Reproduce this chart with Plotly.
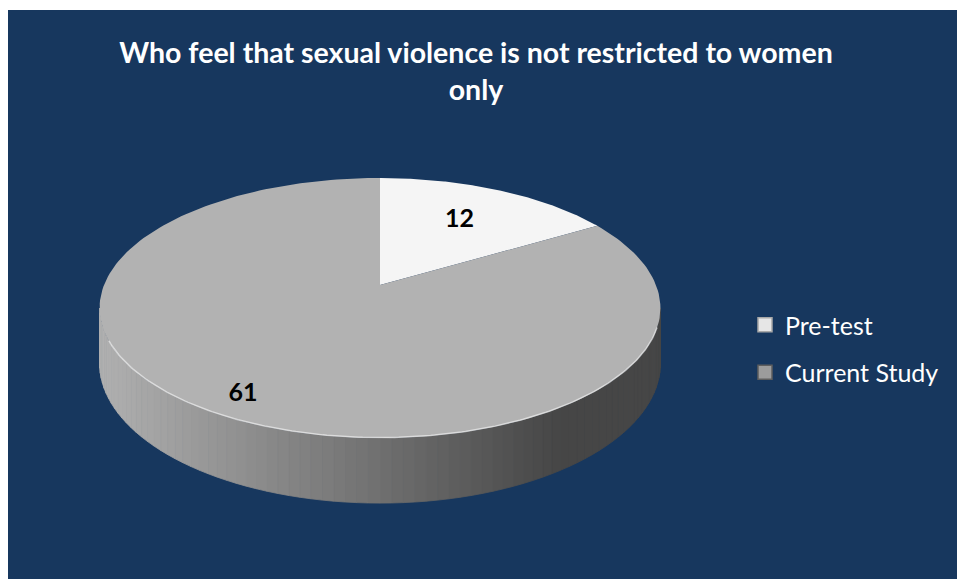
import numpy as np
import plotly.graph_objects as go

# ---- data ----
categories = ["Pre-test", "Current Study"]
values = [12, 61]
title_text = "Who feel that sexual violence is not restricted to women<br>only"

# ---- style ----
top_colors = ["#F5F5F5", "#B2B2B2"]
legend_colors = ["#E6E6E6", "#9C9C9C"]
legend_lines = ["#A8A8A8", "#5E5E5E"]
bg = "#17375E"
label_radius = [0.64, 0.87]

W, Hh = 957, 579

# pie geometry (page-pixel axis units)
CX, CY = 380.0, 285.0
R, RY = 276.0, 126.0
K = 0.177
H = 53.5


def proj(theta, f=1.0, drop=0.0):
    X = f * np.sin(theta)
    Z = f * np.cos(theta)
    d = 1 + K * Z
    return CX + R * X / d, CY - RY * Z / d + drop / d


fig = go.Figure()

total = float(sum(values))
bounds = np.concatenate([[0.0], np.cumsum(values) / total * 2 * np.pi])

# side (visible front part)
vis_a = np.arccos(-K)
vis_b = 2 * np.pi - vis_a
for i in range(len(values)):
    a = max(bounds[i], vis_a)
    b = min(bounds[i + 1], vis_b)
    if b <= a:
        continue
    n = 80
    edges = np.linspace(a, b, n + 1)
    for j in range(n):
        th = np.linspace(edges[j], edges[j + 1], 4)
        xt, yt = proj(th)
        xb, yb = proj(th[::-1], drop=H)
        xs = np.concatenate([xt, xb, xt[:1]])
        ys = np.concatenate([yt, yb, yt[:1]])
        xm = xt.mean()
        t = (xm - (CX - R)) / (2 * R)
        g = int(np.clip(176 - 128 * t, 70, 180))
        col = f"rgb({g},{g},{g})"
        fig.add_trace(go.Scatter(x=xs, y=ys, mode="lines", fill="toself",
                                 fillcolor=col, line=dict(width=0.8, color=col),
                                 hoverinfo="skip", showlegend=False))

# top faces
for i, name in enumerate(categories):
    th = np.linspace(bounds[i], bounds[i + 1], 200)
    xa, ya = proj(th)
    xs = np.concatenate([[CX], xa, [CX]])
    ys = np.concatenate([[CY], ya, [CY]])
    fig.add_trace(go.Scatter(x=xs, y=ys, mode="lines", fill="toself",
                             fillcolor=top_colors[i], line=dict(width=0, color=top_colors[i]),
                             name=name, hoverinfo="skip", showlegend=False))

# rim highlight
th = np.linspace(vis_a + 0.15, vis_b - 0.25, 200)
xh, yh = proj(th)
fig.add_trace(go.Scatter(x=xh, y=yh - 0.5, mode="lines",
                         line=dict(color="rgba(255,255,255,0.55)", width=1.5),
                         hoverinfo="skip", showlegend=False))

# data labels
for i, v in enumerate(values):
    mid = (bounds[i] + bounds[i + 1]) / 2
    lx, ly = proj(np.array([mid]), f=label_radius[i])
    fig.add_trace(go.Scatter(x=lx, y=ly, mode="text", text=[str(v)],
                             textfont=dict(family="Lato", size=25, color="black", weight="bold"),
                             hoverinfo="skip", showlegend=False))

# legend entries
for i, name in enumerate(categories):
    fig.add_trace(go.Scatter(x=[None], y=[None], mode="markers", name=name,
                             legendgroup=name,
                             marker=dict(symbol="square", size=14, color=legend_colors[i],
                                         line=dict(color=legend_lines[i], width=1.5))))

fig.update_layout(
    width=W, height=Hh,
    margin=dict(l=8, r=0, t=10, b=0),
    paper_bgcolor="white",
    plot_bgcolor=bg,
    title=dict(text=title_text, x=476 / W, xref="container", xanchor="center",
               y=1 - 63 / Hh, yref="container", yanchor="top",
               font=dict(family="Lato", size=28.5, color="white", weight="bold")),
    xaxis=dict(range=[8, 957], visible=False, fixedrange=True),
    yaxis=dict(range=[579, 10], visible=False, fixedrange=True),
    showlegend=True,
    legend=dict(x=(745 - 8) / 949, y=1 - (302 - 10) / 569, xanchor="left", yanchor="top",
                bgcolor="rgba(0,0,0,0)", font=dict(family="Lato", size=25, color="white"),
                tracegroupgap=12, itemsizing="trace"),
)

fig.write_html("out.html", config={"displayModeBar": False},
               post_script="document.body.style.margin='0px';document.body.style.overflow='hidden';")
